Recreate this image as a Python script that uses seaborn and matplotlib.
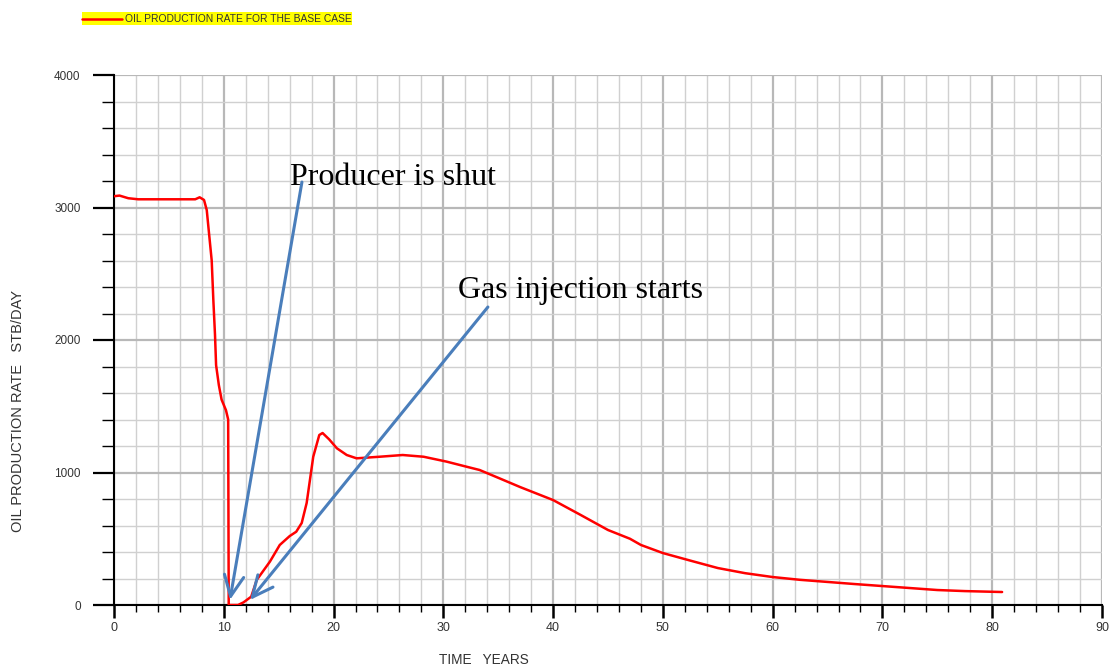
import matplotlib
matplotlib.use("Agg")
import matplotlib.pyplot as plt
import seaborn as sns
import pandas as pd
from matplotlib.patches import Rectangle
from matplotlib.lines import Line2D

# ---- data ----
time_years = [0, 0.5, 1.3, 2.2, 4.0, 6.0, 7.4, 7.8, 8.2, 8.45, 8.65, 8.9, 9.05, 9.2, 9.3,
              9.55, 9.8, 10.2, 10.4, 10.45, 10.5, 11.3, 11.8, 12.5, 13.0, 14.2, 15.1, 16.0,
              16.6, 17.1, 17.55, 18.15, 18.7, 19.0, 19.6, 20.3, 21.2, 22.1, 24.2, 26.3,
              28.2, 30.3, 32.1, 33.3, 35.0, 37.0, 40.0, 42.5, 45.0, 47.0, 48.0, 50.0,
              52.5, 55.0, 57.5, 60.0, 62.5, 65.0, 67.5, 70.0, 72.5, 75.0, 77.5, 80.9]
oil_rate = [3085, 3090, 3070, 3062, 3062, 3062, 3062, 3077, 3057, 2980, 2810, 2600, 2300,
            2040, 1810, 1660, 1550, 1470, 1400, 0, 0, 0, 20, 63, 189, 327, 453, 520,
            553, 619, 770, 1119, 1283, 1298, 1250, 1183, 1132, 1107, 1119, 1132,
            1119, 1082, 1044, 1019, 960, 890, 792, 680, 566, 500, 453, 392,
            335, 279, 240, 211, 190, 174, 158, 143, 128, 113, 105, 98]

x_ticks = list(range(0, 91, 10))
y_ticks = list(range(0, 4001, 1000))
legend_label = "OIL PRODUCTION RATE FOR THE BASE CASE"
x_label = "TIME   YEARS"
y_label = "OIL PRODUCTION RATE   STB/DAY"
annotations = [("Producer is shut", (16.0, 3230), (17.12, 3192), (10.56, 38)),
               ("Gas injection starts", (31.3, 2370), (34.06, 2249), (12.39, 38))]

df = pd.DataFrame({"time": time_years, "rate": oil_rate})

sns.set_theme(style="white")
plt.rcParams["font.family"] = ["Liberation Sans", "DejaVu Sans"]

fig = plt.figure(figsize=(11.12, 6.69), dpi=100)
ax = fig.add_axes([114/1112, 1-605/669, (1102-114)/1112, (605-75)/669])

sns.lineplot(data=df, x="time", y="rate", ax=ax, color="#ff0000", linewidth=1.8,
             legend=False, zorder=5)

ax.set_xlim(0, 90)
ax.set_ylim(0, 4000)
ax.set_xticks(x_ticks)
ax.set_xticks(list(range(0, 91, 2)), minor=True)
ax.set_yticks(y_ticks)
ax.set_yticks(list(range(0, 4001, 200)), minor=True)
ax.set_xticklabels([str(v) for v in x_ticks])
ax.set_yticklabels([str(v) for v in y_ticks])

ax.grid(True, which="major", color="#b8b8b8", linewidth=1.6)
ax.grid(True, which="minor", color="#d0d0d0", linewidth=1.0)
ax.set_axisbelow(True)

for s in ["top", "right"]:
    ax.spines[s].set_visible(False)
for s in ["left", "bottom"]:
    ax.spines[s].set_color("black")
    ax.spines[s].set_linewidth(1.5)

ax.tick_params(axis="y", which="major", direction="out", length=15, width=1.6,
               color="black", pad=9, labelsize=8.5, labelcolor="#333333", left=True)
ax.tick_params(axis="y", which="minor", direction="out", length=8.5, width=1.0,
               color="black", left=True)
ax.tick_params(axis="x", which="major", direction="out", length=9.5, width=1.8,
               color="black", pad=2.5, labelsize=9, labelcolor="#333333", bottom=True)
ax.tick_params(axis="x", which="minor", direction="out", length=5, width=1.0,
               color="black", bottom=True)

ax.set_xlabel("")
ax.set_ylabel("")
fig.text(484/1112, 1-660/669, x_label, ha="center", va="center", fontsize=9.8, color="#333333")
fig.text(18/1112, 1-411/669, y_label, ha="center", va="center", rotation=90,
         fontsize=10.5, color="#333333")

arrow_color = "#4a7ebb"
for label, tpos, start, end in annotations:
    ax.annotate("", xy=end, xytext=start, xycoords="data", textcoords="data",
                arrowprops=dict(arrowstyle="->,head_length=0.75,head_width=0.35",
                                color=arrow_color, lw=2.2, mutation_scale=20,
                                shrinkA=0, shrinkB=0), zorder=6, annotation_clip=False)
    ax.text(tpos[0], tpos[1], label, fontsize=23, family=["Liberation Serif"],
            color="black", ha="left", va="center", zorder=7)

# legend strip at top
fig.patches.append(Rectangle((82/1112, 1-25/669), (352-82)/1112, 13/669,
                             transform=fig.transFigure, facecolor="#ffff00",
                             edgecolor="none", zorder=1))
fig.lines.append(Line2D([82/1112, 122/1112], [1-18.5/669, 1-18.5/669],
                        transform=fig.transFigure, color="#ff0000", lw=1.8, zorder=2))
fig.text(125/1112, 1-18.5/669, legend_label, ha="left", va="center", fontsize=7.4,
         color="#333333", zorder=3)

fig.savefig("out.png", dpi=100)
